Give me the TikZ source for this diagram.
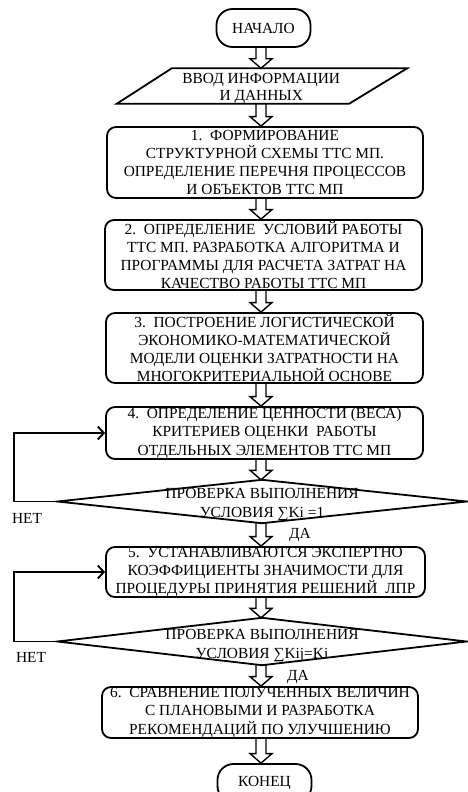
\documentclass[tikz,border=0pt]{standalone}
\usepackage{fontspec}
\setmainfont{Liberation Serif}
\usetikzlibrary{calc,arrows.meta}
\newcommand\barrow[2]{\draw[barr] let \p1=(#1.south -| ax), \p2=(#2.north -| ax) in
  (\x1-5pt,\y1) -- (\x1-5pt,\y2+9.5pt) -- (\x1-11pt,\y2+9.5pt) -- (\x1,\y2)
  -- (\x1+11pt,\y2+9.5pt) -- (\x1+5pt,\y2+9.5pt) -- (\x1+5pt,\y1);}
\begin{document}
\begin{tikzpicture}[x=1pt,y=-1pt,
  txt/.style={font=\fontsize{15.4}{18.3}\selectfont, align=center, inner sep=0pt},
  box/.style={txt, draw, line width=1.8pt, rounded corners=9pt},
  term/.style={txt, draw, line width=1.8pt, rounded corners=16pt, minimum width=94pt, minimum height=38pt},
  outl/.style={line width=1.8pt, line join=miter},
  barr/.style={line width=1.4pt, line join=miter},
  loopline/.style={line width=1.9pt, -{Straight Barb[length=6pt,width=13pt,line width=1.9pt]}},
  lbl/.style={font=\fontsize{15.4}{17}\selectfont, inner sep=0pt}]
\clip (0,0) rectangle (468,792);
\fill[white] (0,0) rectangle (468,792);
\coordinate (ax) at (261,0);

\node[term] (start) at (263.5,28) {НАЧАЛО};

\node[minimum width=233.5pt, minimum height=35pt, inner sep=0pt,
  label={[txt, font=\fontsize{15.4}{17}\selectfont, yshift=-3pt]center:{ВВОД ИНФОРМАЦИИ\\И ДАННЫХ}}] (inp) at (261.25,86) {};
\draw[outl] ($(inp.north west)+(27.5pt,0)$) -- ($(inp.north east)+(29pt,0)$)
  -- ($(inp.south east)+(-29pt,0)$) -- ($(inp.south west)+(-27.5pt,0)$) -- cycle;

\node[box, minimum width=316pt, minimum height=71pt] (b1) at (265,162.5)
  {1.~~ФОРМИРОВАНИЕ\\СТРУКТУРНОЙ СХЕМЫ ТТС МП.\\ОПРЕДЕЛЕНИЕ ПЕРЕЧНЯ ПРОЦЕССОВ\\И ОБЪЕКТОВ ТТС МП};
\node[box, minimum width=317pt, minimum height=70pt] (b2) at (263.5,255)
  {2.~~ОПРЕДЕЛЕНИЕ~~УСЛОВИЙ РАБОТЫ\\ТТС МП. РАЗРАБОТКА АЛГОРИТМА И\\ПРОГРАММЫ ДЛЯ РАСЧЕТА ЗАТРАТ НА\\КАЧЕСТВО РАБОТЫ ТТС МП};
\node[box, minimum width=317pt, minimum height=70pt] (b3) at (264.5,348)
  {3.~~ПОСТРОЕНИЕ ЛОГИСТИЧЕСКОЙ\\ЭКОНОМИКО-МАТЕМАТИЧЕСКОЙ\\МОДЕЛИ ОЦЕНКИ ЗАТРАТНОСТИ НА\\МНОГОКРИТЕРИАЛЬНОЙ ОСНОВЕ};
\node[box, minimum width=317pt, minimum height=52pt] (b4) at (264.5,433)
  {4.~~ОПРЕДЕЛЕНИЕ ЦЕННОСТИ (ВЕСА)\\КРИТЕРИЕВ ОЦЕНКИ~~РАБОТЫ\\ОТДЕЛЬНЫХ ЭЛЕМЕНТОВ ТТС МП};

\node[minimum width=409pt, minimum height=43pt, inner sep=0pt,
  label={[txt, yshift=-3pt]center:{ПРОВЕРКА ВЫПОЛНЕНИЯ\\УСЛОВИЯ ∑Ki =1}}] (d1) at (262,501.5) {};
\draw[outl] (d1.west) -- (d1.north) -- (d1.east) -- (d1.south) -- cycle;

\node[box, minimum width=319pt, minimum height=50pt] (b5) at (265.5,572)
  {5.~~УСТАНАВЛИВАЮТСЯ ЭКСПЕРТНО\\КОЭФФИЦИЕНТЫ ЗНАЧИМОСТИ ДЛЯ\\ПРОЦЕДУРЫ ПРИНЯТИЯ РЕШЕНИЙ~~ЛПР};

\node[minimum width=409pt, minimum height=47pt, inner sep=0pt,
  label={[txt, yshift=-4pt]center:{ПРОВЕРКА ВЫПОЛНЕНИЯ\\УСЛОВИЯ ∑Kij=Ki}}] (d2) at (262,641.5) {};
\draw[outl] (d2.west) -- (d2.north) -- (d2.east) -- (d2.south) -- cycle;

\node[box, minimum width=316pt, minimum height=51pt] (b6) at (260,712.5)
  {6.~~СРАВНЕНИЕ ПОЛУЧЕННЫХ ВЕЛИЧИН\\С ПЛАНОВЫМИ И РАЗРАБОТКА\\РЕКОМЕНДАЦИЙ ПО УЛУЧШЕНИЮ};

\node[term] (stop) at (264.5,783) {КОНЕЦ};

\barrow{start}{inp}
\barrow{inp}{b1}
\barrow{b1}{b2}
\barrow{b2}{b3}
\barrow{b3}{b4}
\barrow{b4}{d1}
\barrow{d1}{b5}
\barrow{b5}{d2}
\barrow{d2}{b6}
\barrow{b6}{stop}

\coordinate (lx) at (14,0);
\draw[loopline] (d1.west) -- (d1.west -| lx) -- (b4.west -| lx) -- (b4.west);
\draw[loopline] (d2.west) -- (d2.west -| lx) -- (b5.west -| lx) -- (b5.west);

\node[lbl] (net1) at (27,518) {НЕТ};
\node[lbl] (net2) at (31,657) {НЕТ};
\node[lbl] (da1) at (300,535) {ДА};
\node[lbl] (da2) at (298,677) {ДА};
\end{tikzpicture}
\end{document}
